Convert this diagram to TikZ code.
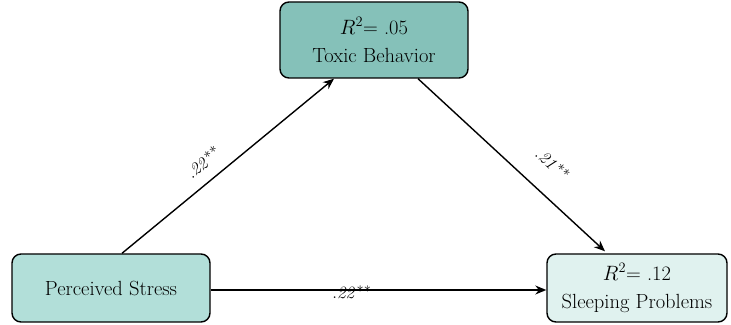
\documentclass[tikz,border=0pt]{standalone}
\usetikzlibrary{arrows.meta}

\tikzset{
	varbox/.style={draw,line width=1.4pt,rounded corners=9pt,align=center,inner sep=0pt,font=\fontsize{20.5}{28}\selectfont},
	path arrow/.style={line width=1.4pt,-{Stealth[length=11pt,width=9pt]}},
	coef/.style={font=\fontsize{19}{20}\selectfont}
}
\definecolor{toxicfill}{HTML}{85C1B9}
\definecolor{stressfill}{HTML}{B2DFD9}
\definecolor{sleepfill}{HTML}{E0F2EF}

\begin{document}
\begin{tikzpicture}[x=1pt,y=1pt]
	\useasboundingbox (0,0) rectangle (731,324);
	\node[varbox,fill=toxicfill,minimum width=188pt,minimum height=76pt] (toxic) at (374,284) {$R^2$= .05\\Toxic Behavior};
	\node[varbox,fill=stressfill,minimum width=198pt,minimum height=68pt] (stress) at (111,36) {Perceived Stress};
	\node[varbox,fill=sleepfill,minimum width=180pt,minimum height=68pt] (sleep) at (637,36) {$R^2$= .12\\Sleeping Problems};
	% paths
	\draw[path arrow] ([xshift=11pt]stress.north) -- ([xshift=-40pt]toxic.south);
	\draw[path arrow] ([xshift=44pt]toxic.south) -- ([xshift=-32pt,yshift=2pt]sleep.north);
	\draw[path arrow] ([yshift=-2pt]stress.east) -- ([yshift=-2pt]sleep.west);
	% coefficients
	\node[coef,rotate=40] (a) at (203,162) {$\mathit{.22}^{**}$};
	\node[coef,rotate=-43] (b) at (553,160) {$\mathit{.21}^{**}$};
	\node[coef] (c) at (352,32) {$\mathit{.22}^{**}$};
\end{tikzpicture}
\end{document}
